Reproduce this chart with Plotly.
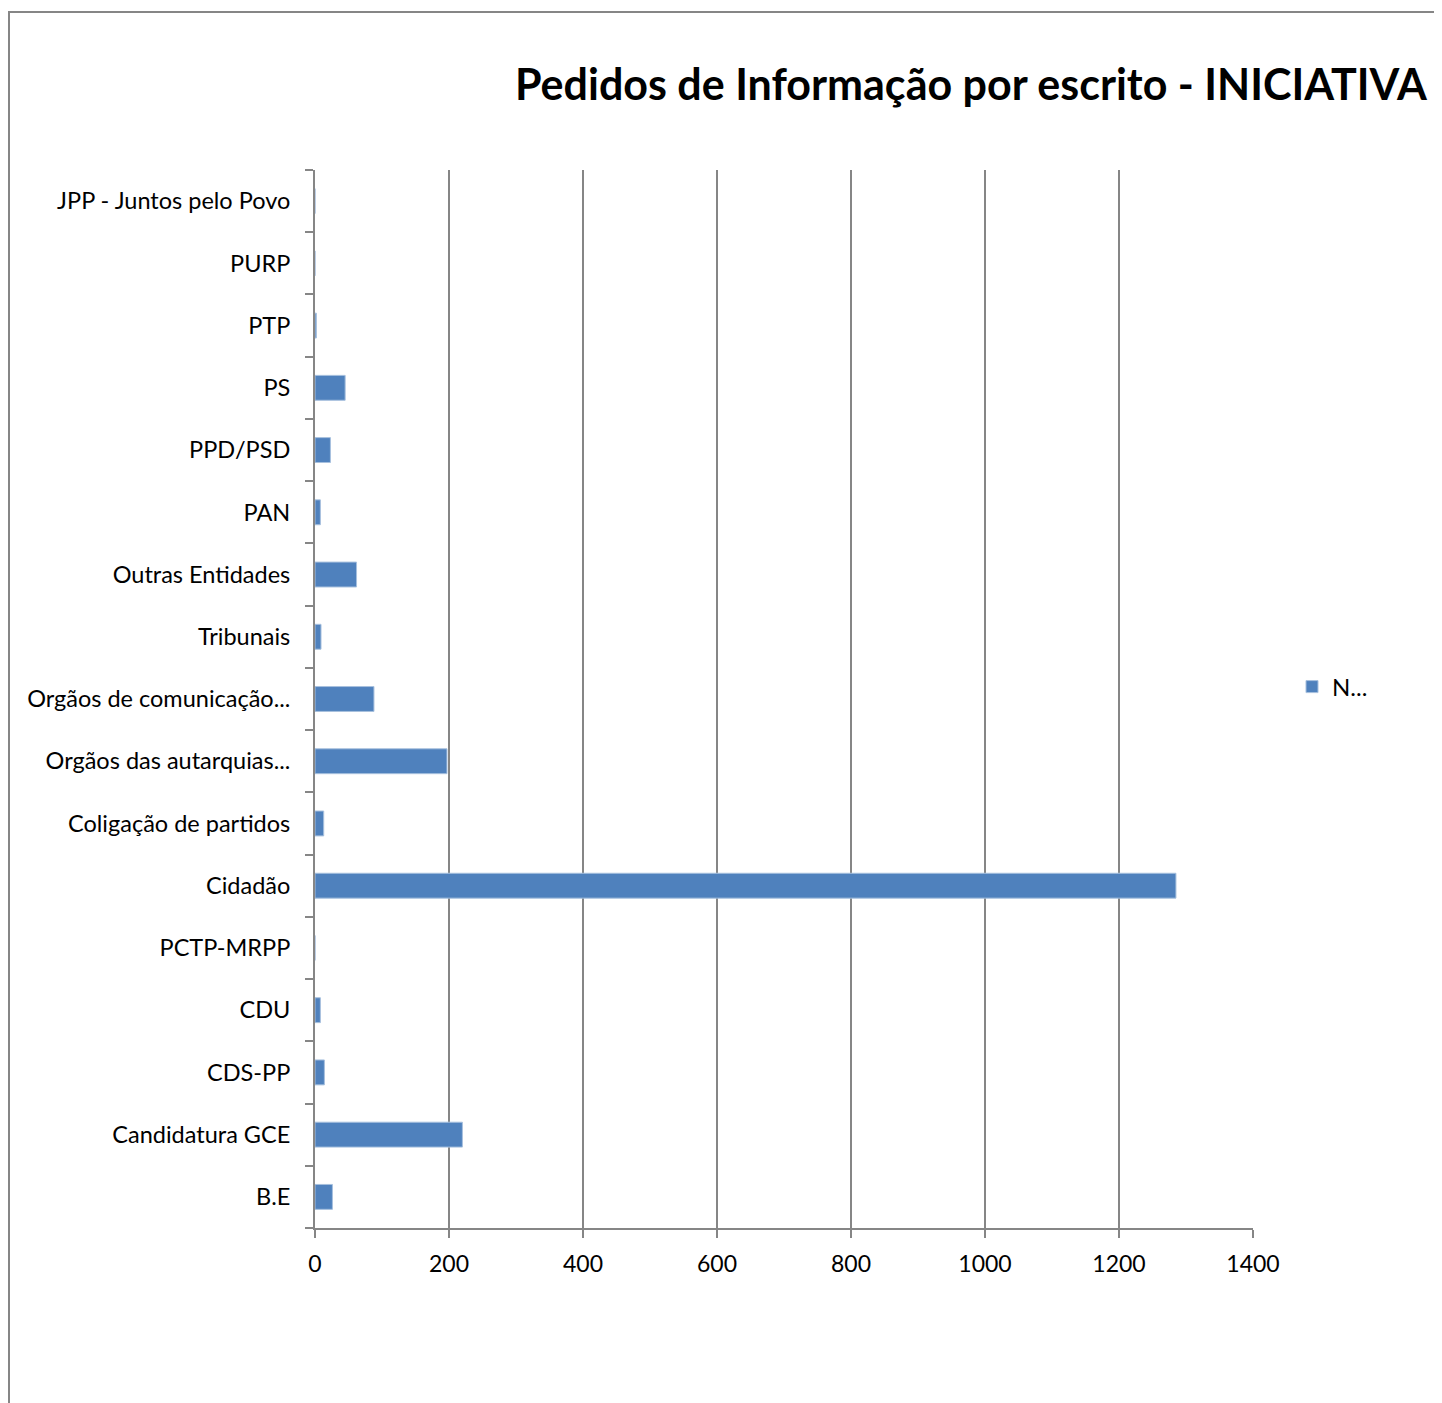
import plotly.graph_objects as go

categories = [
    "B.E", "Candidatura GCE", "CDS-PP", "CDU", "PCTP-MRPP", "Cidadão",
    "Coligação de partidos", "Orgãos das autarquias...", "Orgãos de comunicação...",
    "Tribunais", "Outras Entidades", "PAN", "PPD/PSD", "PS", "PTP", "PURP",
    "JPP - Juntos pelo Povo",
]
values = [26, 220, 14, 8, 0, 1285, 13, 197, 88, 9, 62, 8, 23, 45, 2, 0, 0]
series_name = "N..."
x_ticks = [0, 200, 400, 600, 800, 1000, 1200, 1400]
title_text = "Pedidos de Informação por escrito - INICIATIVA"

OFF = 8  # page body margin
W, H = 1442, 1403
ML, MT = 315 - OFF, 170 - OFF
PW, PH = 938, 1058
MR = W - ML - PW
MB = H - MT - PH

def px_x(p):
    return (p - OFF - ML) / PW

def px_y(p):
    return (H - MB - (p - OFF)) / PH

grid_col = "#868686"
font_family = "Lato, 'Open Sans', sans-serif"

fig = go.Figure()
fig.add_trace(go.Bar(
    y=categories, x=values, orientation="h", name=series_name,
    marker=dict(color="#4F81BD", line=dict(color="#A7C0DE", width=1)),
    showlegend=True,
))

fig.update_layout(
    width=W, height=H,
    margin=dict(l=ML, r=MR, t=MT, b=MB, pad=0),
    paper_bgcolor="white", plot_bgcolor="white",
    font=dict(family=font_family, size=24, color="black"),
    bargap=0.6,
    showlegend=True,
    legend=dict(x=px_x(1292), y=px_y(687), xanchor="left", yanchor="middle",
                font=dict(size=24), bgcolor="rgba(0,0,0,0)", itemwidth=30),
    xaxis=dict(
        range=[0, 1400], tickvals=x_ticks, ticktext=[str(t) for t in x_ticks],
        showgrid=True, gridcolor=grid_col, gridwidth=2,
        showline=True, linecolor=grid_col, linewidth=2,
        ticks="outside", ticklen=8, tickcolor=grid_col, tickwidth=2,
        zeroline=False, fixedrange=True, ticklabelstandoff=6,
        tickfont=dict(size=23),
    ),
    yaxis=dict(
        type="category", categoryorder="array", categoryarray=categories,
        showline=True, linecolor=grid_col, linewidth=2,
        ticks="outside", tickson="boundaries", ticklen=8, tickcolor=grid_col, tickwidth=2,
        showgrid=False, ticklabelstandoff=18,
        tickfont=dict(size=23.5),
    ),
    shapes=[
        dict(type="rect", xref="paper", yref="paper",
             x0=px_x(9), x1=px_x(1470), y0=px_y(1430), y1=px_y(12),
             line=dict(color=grid_col, width=2), fillcolor="rgba(0,0,0,0)", layer="below"),
    ],
    annotations=[
        dict(text="<b>" + title_text + "</b>", xref="paper", yref="paper",
             x=px_x(513), y=px_y(84), xanchor="left", yanchor="middle",
             showarrow=False, font=dict(size=43, family=font_family, color="black")),
    ],
)

fig.write_html("out.html")
